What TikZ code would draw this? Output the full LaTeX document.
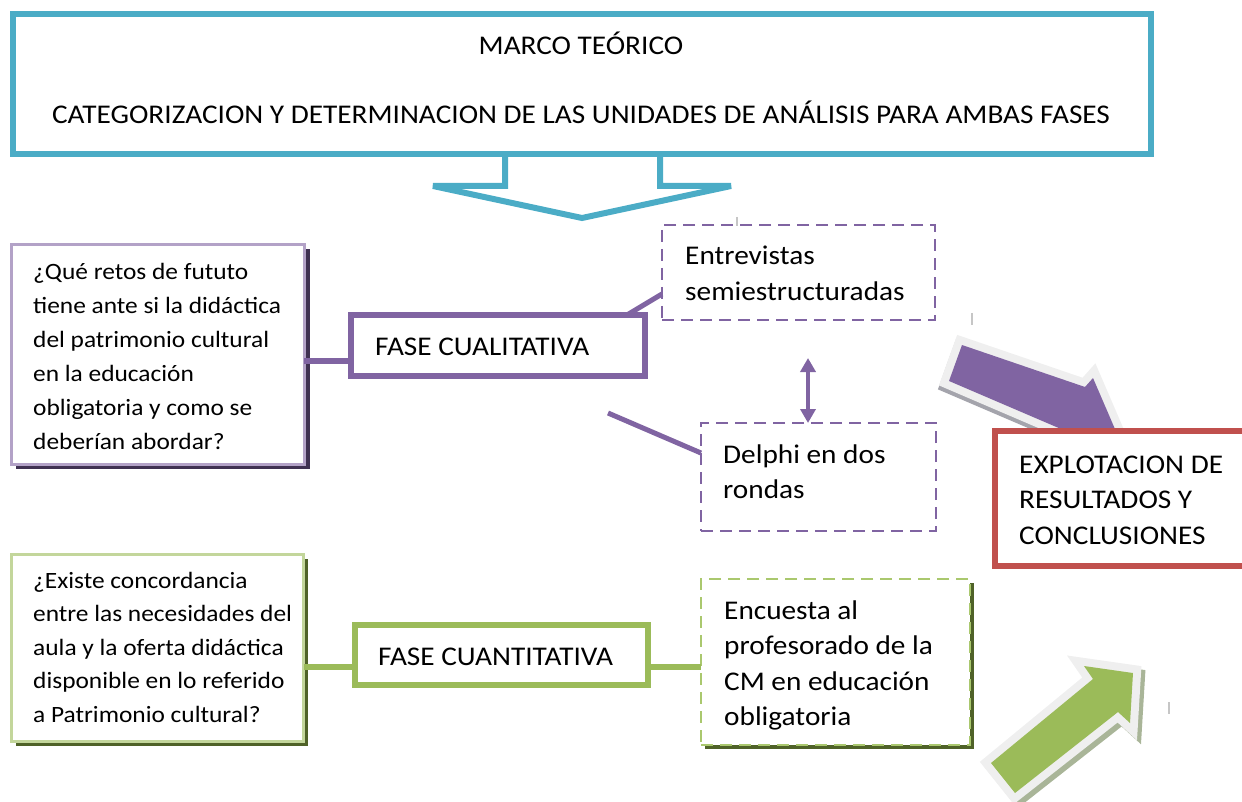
\documentclass[tikz,border=0pt]{standalone}
\usepackage{fontspec}
\setmainfont{Carlito}[FakeStretch=1.085]
\usetikzlibrary{arrows.meta,calc}
\definecolor{blueC}{HTML}{4BACC6}
\definecolor{purpleC}{HTML}{8064A2}
\definecolor{lpurple}{HTML}{B3A2C7}
\definecolor{dpurple}{HTML}{3F3151}
\definecolor{greenC}{HTML}{9BBB59}
\definecolor{lgreen}{HTML}{C3D69B}
\definecolor{dgreen}{HTML}{4F6228}
\definecolor{dashgreen}{HTML}{AAC86E}
\definecolor{redC}{HTML}{C0504D}
\definecolor{bevelC}{HTML}{EFEFEF}
\definecolor{pshadow}{HTML}{A4A4AC}
\definecolor{gshadow}{HTML}{A9B598}
\begin{document}
\begin{tikzpicture}[x=1pt,y=-1pt,
  box/.style={draw, fill=white, outer sep=0pt, inner sep=0pt, anchor=north west},
  dashbox/.style={box, line width=2pt, dash pattern=on 12pt off 7pt},
  txt/.style={anchor=base west, inner sep=0pt, align=left},
  bigf/.style={font=\fontsize{27}{35.5}\selectfont},
  smallf/.style={font=\fontsize{23.4}{34}\selectfont},
  pline/.style={draw=purpleC, line width=5pt},
  gline/.style={draw=greenC, line width=6pt},
  tick/.style={draw=gray!45, line width=1.2pt}]
\useasboundingbox (0,0) rectangle (1242,802);
\clip (0,0) rectangle (1242,802);

% top box
\node[box, draw=blueC, line width=6pt, minimum width=1138pt, minimum height=140.5pt] (top) at (13,14) {};
\node[anchor=base, inner sep=0pt, font=\fontsize{27}{35}\selectfont] (t1) at (581,55) {MARCO TEÓRICO};
\node[anchor=base, inner sep=0pt, font=\fontsize{27}{35}\selectfont] (t2) at (581,124) {CATEGORIZACION Y DETERMINACION DE LAS UNIDADES DE ANÁLISIS PARA AMBAS FASES};

% outlined down arrow
\draw[blueC, line width=6pt, miter limit=2]
  ($(top.south)+(-77,0)$) -- ++(0,31.5) -- (433,186) -- (582,218) -- (731,186) -- (660,186) -- ($(top.south)+(78,0)$);

% left purple question box
\fill[dpurple] (16,249.5) rectangle (309.5,468.5);
\node[box, draw=lpurple, line width=3pt, minimum width=292.5pt, minimum height=219pt] (lp) at (11.5,245) {};
\node[txt, smallf] (lpt) at (33,449) {¿Qué retos de fututo\\tiene ante si la didáctica\\del patrimonio cultural\\en la educación\\obligatoria y como se\\deberían abordar?};

% FASE CUALITATIVA
\node[box, draw=purpleC, line width=6pt, minimum width=294pt, minimum height=61pt] (fc) at (351,315) {};
\node[txt, bigf] (fct) at (375,355) {FASE CUALITATIVA};

% Entrevistas
\node[dashbox, draw=purpleC, minimum width=273pt, minimum height=95pt] (ent) at (662,225) {};
\node[txt, font=\fontsize{27}{36}\selectfont] (entt) at (685,301) {Entrevistas\\semiestructuradas};

% Delphi
\node[dashbox, draw=purpleC, minimum width=235pt, minimum height=108pt] (del) at (701,423) {};
\node[txt, font=\fontsize{27}{35}\selectfont] (delt) at (723,498) {Delphi en dos\\rondas};

% purple connectors
\coordinate (y1) at (0,361);
\coordinate (y2) at (0,294);
\coordinate (y3) at (0,453);
\coordinate (dl) at (608,413);
\coordinate (da) at (808,358);
\draw[pline, line width=6pt] (lp.east |- y1) -- (fc.west |- y1);
\draw[pline] ($(fc.north east)+(-18,0)$) -- (ent.west |- y2);
\draw[pline] (dl) -- (del.west |- y3);
\draw[purpleC, line width=4pt, {Triangle[width=15pt,length=14pt]}-{Triangle[width=15pt,length=14pt]}] (da) -- (da |- del.north);

% purple block arrow
\begin{scope}[shift={(-1,4)}]
\filldraw[draw=pshadow, fill=pshadow, line width=16pt, line join=miter]
  (962,345) -- (1085,387) -- (1093,378) -- (1124,450) -- (1110,450) -- (949,381) -- cycle;
\end{scope}
\filldraw[draw=bevelC, fill=purpleC, line width=16pt, line join=miter]
  (962,345) -- (1085,387) -- (1093,378) -- (1124,450) -- (1110,450) -- (949,381) -- cycle;
\fill[purpleC]
  (962,345) -- (1085,387) -- (1093,378) -- (1124,450) -- (1110,450) -- (949,381) -- cycle;

% red result box
\node[box, draw=redC, line width=6pt, minimum width=260pt, minimum height=135pt] (res) at (995,431) {};
\node[txt, bigf] (rest) at (1019,544) {EXPLOTACION DE\\RESULTADOS Y\\CONCLUSIONES};

% left green question box
\fill[dgreen] (16,559) rectangle (308,746);
\node[box, draw=lgreen, line width=3pt, minimum width=292pt, minimum height=186.5pt] (lg) at (11.5,554.5) {};
\node[txt, font=\fontsize{23.4}{33.5}\selectfont] (lgt) at (33,722) {¿Existe concordancia\\entre las necesidades del\\aula y la oferta didáctica\\disponible en lo referido\\a Patrimonio cultural?};

% FASE CUANTITATIVA
\node[box, draw=greenC, line width=6pt, minimum width=293pt, minimum height=60pt] (fq) at (355,625) {};
\node[txt, bigf] (fqt) at (378,665) {FASE CUANTITATIVA};

% Encuesta
\fill[dgreen] (705,583) rectangle (974,749);
\node[dashbox, draw=dashgreen, minimum width=269pt, minimum height=166pt] (enc) at (701,579) {};
\node[txt, bigf] (enct) at (724,725.5) {Encuesta al\\profesorado de la\\CM en educación\\obligatoria};

% green connectors
\coordinate (y4) at (0,667);
\draw[gline] (lg.east |- y4) -- (fq.west |- y4);
\draw[gline] (fq.east |- y4) -- (enc.west |- y4);

% green block arrow
\begin{scope}[shift={(4,4)}]
\filldraw[draw=gshadow, fill=gshadow, line width=16pt, line join=miter]
  (991,763) -- (1093,679) -- (1084,666) -- (1133,673) -- (1130,723) -- (1118,712) -- (1015,793) -- cycle;
\end{scope}
\filldraw[draw=bevelC, fill=greenC, line width=16pt, line join=miter]
  (991,763) -- (1093,679) -- (1084,666) -- (1133,673) -- (1130,723) -- (1118,712) -- (1015,793) -- cycle;
\fill[greenC]
  (991,763) -- (1093,679) -- (1084,666) -- (1133,673) -- (1130,723) -- (1118,712) -- (1015,793) -- cycle;

% small marks
\draw[tick] (737,217) -- (737,226);
\draw[tick] (972,313) -- (972,325);
\draw[tick] (1169,702) -- (1169,714);
\end{tikzpicture}
\end{document}
